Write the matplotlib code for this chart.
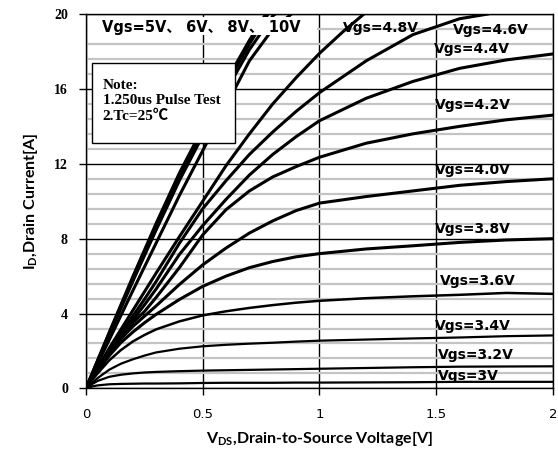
import matplotlib
matplotlib.use('Agg')
import matplotlib.pyplot as plt
from matplotlib.ticker import MultipleLocator, FixedLocator
from matplotlib.patches import Rectangle

plt.rcParams['mathtext.fontset'] = 'custom'
plt.rcParams['mathtext.rm'] = 'Lato:bold'
plt.rcParams['mathtext.it'] = 'Lato:bold'
plt.rcParams['mathtext.bf'] = 'Lato:bold'

# output curves: Vds [V] -> Id [A]
vg = [0, 0.025, 0.05, 0.1, 0.15, 0.2, 0.25, 0.3, 0.4, 0.5,
      0.6, 0.7, 0.8, 0.9, 1.0, 1.2, 1.4, 1.6, 1.8, 2.0]

id_3v0 = [0, 0.1, 0.16, 0.22, 0.24, 0.25, 0.26, 0.26, 0.27, 0.29,
          0.3, 0.3, 0.3, 0.31, 0.31, 0.32, 0.33, 0.35, 0.35, 0.35]
id_3v2 = [0, 0.22, 0.4, 0.62, 0.73, 0.8, 0.85, 0.88, 0.92, 0.95,
          0.97, 0.99, 1.01, 1.03, 1.05, 1.09, 1.13, 1.16, 1.17, 1.18]
id_3v4 = [0, 0.28, 0.55, 1.0, 1.32, 1.55, 1.75, 1.92, 2.12, 2.25,
          2.33, 2.39, 2.44, 2.5, 2.55, 2.61, 2.67, 2.72, 2.79, 2.83]
id_3v6 = [0, 0.42, 0.8, 1.5, 2.05, 2.5, 2.85, 3.15, 3.58, 3.9,
          4.12, 4.3, 4.45, 4.58, 4.68, 4.82, 4.92, 5.0, 5.1, 5.05]
id_3v8 = [0, 0.48, 0.92, 1.75, 2.45, 3.0, 3.5, 3.95, 4.75, 5.45,
          6.0, 6.45, 6.78, 7.03, 7.2, 7.45, 7.62, 7.8, 7.93, 8.0]
id_4v0 = [0, 0.5, 0.98, 1.9, 2.65, 3.3, 3.85, 4.4, 5.55, 6.6,
          7.5, 8.3, 8.95, 9.5, 9.9, 10.25, 10.55, 10.85, 11.05, 11.2]
id_4v2 = [0, 0.51, 1.0, 1.95, 2.8, 3.5, 4.1, 4.85, 6.45, 8.2,
          9.55, 10.55, 11.3, 11.85, 12.35, 13.1, 13.6, 14.0, 14.35, 14.6]
id_4v4 = [0, 0.52, 1.02, 2.0, 2.85, 3.65, 4.45, 5.3, 7.15, 8.7,
          10.1, 11.4, 12.5, 13.45, 14.3, 15.5, 16.4, 17.1, 17.55, 17.87]

v_4v6 = [0, 0.025, 0.05, 0.1, 0.15, 0.2, 0.25, 0.3, 0.4, 0.5,
         0.6, 0.7, 0.8, 0.9, 1.0, 1.2, 1.4, 1.6, 1.72]
id_4v6 = [0, 0.53, 1.04, 2.05, 2.95, 3.85, 4.75, 5.7, 7.75, 9.6,
          11.1, 12.5, 13.7, 14.8, 15.8, 17.5, 18.9, 19.75, 20.0]

v_4v8 = [0, 0.025, 0.05, 0.1, 0.15, 0.2, 0.25, 0.3, 0.4, 0.5,
         0.6, 0.7, 0.8, 0.9, 1.0, 1.1, 1.19]
id_4v8 = [0, 0.55, 1.08, 2.15, 3.15, 4.15, 5.15, 6.15, 8.1, 10.0,
          11.9, 13.6, 15.2, 16.6, 17.9, 19.05, 20.0]

v_5v = [0, 0.1, 0.2, 0.3, 0.4, 0.5, 0.6, 0.7, 0.8, 0.88]
id_5v = [0, 2.6, 5.2, 7.75, 10.3, 12.7, 15.1, 17.5, 19.2, 20.0]
v_6v = [0, 0.1, 0.2, 0.3, 0.4, 0.5, 0.6, 0.7, 0.8, 0.81]
id_6v = [0, 2.85, 5.7, 8.45, 11.1, 13.5, 15.9, 18.1, 19.9, 20.0]
v_8v = [0, 0.1, 0.2, 0.3, 0.4, 0.5, 0.6, 0.7, 0.78]
id_8v = [0, 2.95, 5.85, 8.65, 11.3, 13.7, 16.2, 18.4, 20.0]
v_10v = [0, 0.1, 0.2, 0.3, 0.4, 0.5, 0.6, 0.7, 0.77]
id_10v = [0, 3.0, 5.95, 8.8, 11.5, 13.9, 16.4, 18.6, 20.0]

curves = [
    (vg, id_3v0, 1.6), (vg, id_3v2, 1.6), (vg, id_3v4, 1.6),
    (vg, id_3v6, 1.8), (vg, id_3v8, 2.2), (vg, id_4v0, 2.2),
    (vg, id_4v2, 2.2), (vg, id_4v4, 2.2), (v_4v6, id_4v6, 2.2),
    (v_4v8, id_4v8, 2.2), (v_5v, id_5v, 2.2), (v_6v, id_6v, 2.2),
    (v_8v, id_8v, 2.2), (v_10v, id_10v, 2.2),
]

# curve labels: text, left x, centre y
labels = ['Vgs=4.8V', 'Vgs=4.6V', 'Vgs=4.4V', 'Vgs=4.2V', 'Vgs=4.0V',
          'Vgs=3.8V', 'Vgs=3.6V', 'Vgs=3.4V', 'Vgs=3.2V', 'Vgs=3V']
label_x = [1.10, 1.57, 1.49, 1.495, 1.495, 1.495, 1.516, 1.495, 1.508, 1.508]
label_y = [19.28, 19.17, 18.13, 15.14, 11.66, 8.49, 5.74, 3.32, 1.76, 0.68]

x_ticks = [0, 0.5, 1, 1.5, 2]
x_ticklabels = ['0', '0.5', '1', '1.5', '2']
y_ticks = [0, 4, 8, 12, 16, 20]

fig = plt.figure(figsize=(5.58, 4.54), dpi=100)
ax = fig.add_axes([0.154, 0.1445, 0.837, 0.8245])

for v, i, lw in curves:
    ax.plot(v, i, color='black', lw=lw, zorder=2, solid_joinstyle='round')

ax.set_xlim(0, 2)
ax.set_ylim(0, 20)
ax.xaxis.set_major_locator(FixedLocator(x_ticks))
ax.set_xticklabels(x_ticklabels)
ax.yaxis.set_major_locator(FixedLocator(y_ticks))
ax.yaxis.set_minor_locator(MultipleLocator(0.8))

ax.grid(which='major', color='black', lw=1.0, zorder=1)
ax.grid(which='minor', axis='y', color='#c4c4c4', lw=1.6, zorder=0.9)
ax.set_axisbelow(True)

for s in ax.spines.values():
    s.set_linewidth(1.0)
    s.set_zorder(1.5)

ax.tick_params(axis='both', which='major', direction='out', length=5, width=1)
ax.tick_params(axis='y', which='minor', length=0)
ax.tick_params(axis='y', pad=8)
ax.tick_params(axis='x', pad=9)
for t in ax.get_yticklabels():
    t.set_fontfamily('Liberation Serif')
    t.set_fontweight('bold')
    t.set_fontsize(10)
for t in ax.get_xticklabels():
    t.set_fontfamily('DejaVu Sans')
    t.set_fontsize(9.5)

ax.set_xlabel(r'V$_{\rm DS}$,Drain-to-Source Voltage[V]', fontfamily='Lato',
              fontweight='bold', fontsize=11.5, labelpad=6)
ax.set_ylabel(r'I$_{\rm D}$,Drain Current[A]', fontfamily='Lato',
              fontweight='bold', fontsize=11.5, labelpad=10)

for txt, lx, ly in zip(labels, label_x, label_y):
    ax.text(lx, ly, txt, fontfamily='DejaVu Sans', fontweight='bold',
            fontsize=10, ha='left', va='center', zorder=3)

# top label on a white background that hides lines behind it
ax.add_patch(Rectangle((0.004, 0.944), 0.49, 0.0485, transform=ax.transAxes,
                       facecolor='white', edgecolor='none', zorder=4))
ax.text(0.035, 0.9635, 'Vgs=5V、 6V、 8V、 10V', transform=ax.transAxes,
        fontfamily=['DejaVu Sans', 'Noto Sans CJK SC'], fontweight='bold',
        fontsize=10.5, ha='left', va='center', zorder=5)

# note box
ax.add_patch(Rectangle((0.013, 0.656), 0.306, 0.213, transform=ax.transAxes,
                       facecolor='white', edgecolor='black', lw=1.0, zorder=4))
note_lines = ['Note:', '1.250us Pulse Test', '2.Tc=25℃']
note_y = [0.808, 0.768, 0.727]
for line, ny in zip(note_lines, note_y):
    ax.text(0.036, ny, line, transform=ax.transAxes,
            fontfamily=['Liberation Serif', 'Noto Sans CJK SC'],
            fontweight='bold', fontsize=11, ha='left', va='center', zorder=5)

fig.savefig('out.png', dpi=100)
